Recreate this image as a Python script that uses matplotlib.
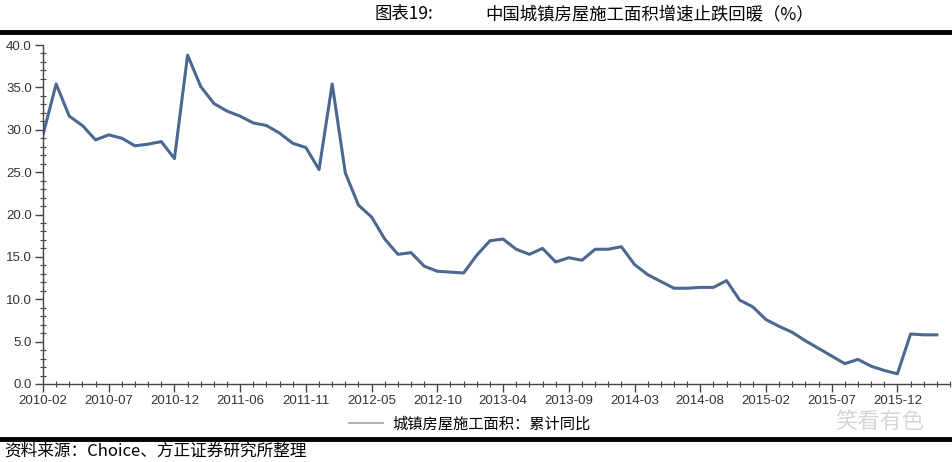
## imports
import matplotlib
matplotlib.use("Agg")
import matplotlib.pyplot as plt
from matplotlib.lines import Line2D
from matplotlib.ticker import MultipleLocator

## data: cumulative yoy growth of housing floor space under construction (%)
## months without January (Jan-Feb reported together), 2010-02 .. 2016-04
months = ([f"2010-{m:02d}" for m in range(2, 13)] +
          [f"2011-{m:02d}" for m in range(2, 13)] +
          [f"2012-{m:02d}" for m in range(2, 13)] +
          [f"2013-{m:02d}" for m in range(2, 13)] +
          [f"2014-{m:02d}" for m in range(2, 13)] +
          [f"2015-{m:02d}" for m in range(2, 13)] +
          ["2016-02", "2016-03", "2016-04"])
growth = [29.4, 35.4, 31.6, 30.5, 28.8, 29.4, 29.0, 28.1, 28.3, 28.6, 26.6,
          38.8, 35.1, 33.1, 32.2, 31.6, 30.8, 30.5, 29.6, 28.4, 27.9, 25.3,
          35.4, 24.9, 21.1, 19.7, 17.1, 15.3, 15.5, 13.9, 13.3, 13.2, 13.1,
          15.2, 16.9, 17.1, 15.9, 15.3, 16.0, 14.4, 14.9, 14.6, 15.9,
          15.9, 16.2, 14.1, 12.9, 12.1, 11.3, 11.3, 11.4, 11.4, 12.2, 9.9, 9.1,
          7.6, 6.8, 6.1, 5.1, 4.2, 3.3, 2.4, 2.9, 2.1, 1.6, 1.2,
          5.9, 5.8, 5.8]
tick_labels = ["2010-02", "2010-07", "2010-12", "2011-06", "2011-11",
               "2012-05", "2012-10", "2013-04", "2013-09", "2014-03",
               "2014-08", "2015-02", "2015-07", "2015-12"]

title_no = "图表19:"
title_txt = "中国城镇房屋施工面积增速止跌回暖（%）"
series_name = "城镇房屋施工面积：累计同比"
source_txt = "资料来源：Choice、方正证券研究所整理"

cjk = ["Noto Sans CJK SC", "DejaVu Sans"]
plt.rcParams['font.family'] = ["Liberation Sans", "DejaVu Sans"]

fig = plt.figure(figsize=(9.53, 4.62), dpi=100)
ax = fig.add_axes([43 / 953, 1 - 384 / 462, 907 / 953, 339 / 462])

x = list(range(len(growth)))
ax.plot(x, growth, color="#4a6890", lw=2.2, solid_joinstyle="round")

## axes styling
ax.set_ylim(0, 40)
ax.set_xlim(0, 68.8)
ax.yaxis.set_minor_locator(MultipleLocator(1))
ax.set_yticks([0, 5, 10, 15, 20, 25, 30, 35, 40])
ax.set_yticklabels([f"{v:.1f}" for v in range(0, 45, 5)])
ax.set_xticks([months.index(t) for t in tick_labels])
ax.set_xticklabels(tick_labels)
ax.set_xticks(x + [69], minor=True)
for s in ["top", "right"]:
    ax.spines[s].set_visible(False)
for s in ["left", "bottom"]:
    ax.spines[s].set_color("#444444")
    ax.spines[s].set_linewidth(1.0)
ax.tick_params(which="major", direction="out", length=6, width=1.0,
               color="#444444", labelsize=9.5, labelcolor="#333333", pad=2)
ax.tick_params(which="minor", direction="inout", length=5, width=0.8,
               color="#444444")

## legend below axis
leg_handle = Line2D([0], [0], color="#9aa4ae", lw=1.2)
fig.legend([leg_handle], [series_name], loc="center",
           bbox_to_anchor=(470 / 953, 1 - 424 / 462), frameon=False,
           prop={"family": cjk, "size": 11}, handlelength=2.2,
           handletextpad=0.6)

## title & separators
fig.text(375 / 953, 1 - 14 / 462, title_no, family=cjk, fontsize=12.5,
         ha="left", va="center")
fig.text(485 / 953, 1 - 14 / 462, title_txt, family=cjk, fontsize=12.5,
         ha="left", va="center")
fig.add_artist(Line2D([0, 1], [1 - 32 / 462] * 2, color="black", lw=3.5))
fig.add_artist(Line2D([0, 1], [1 - 439 / 462] * 2, color="black", lw=3.5))
fig.text(4 / 953, 1 - 451 / 462, source_txt, family=cjk, fontsize=12,
         style="italic", ha="left", va="center")

## watermark
fig.text(880 / 953, 1 - 421 / 462, "笑看有色", family=cjk, fontsize=16,
         color="#cccccc", ha="center", va="center", alpha=0.8)

fig.savefig("out.png", dpi=100)
